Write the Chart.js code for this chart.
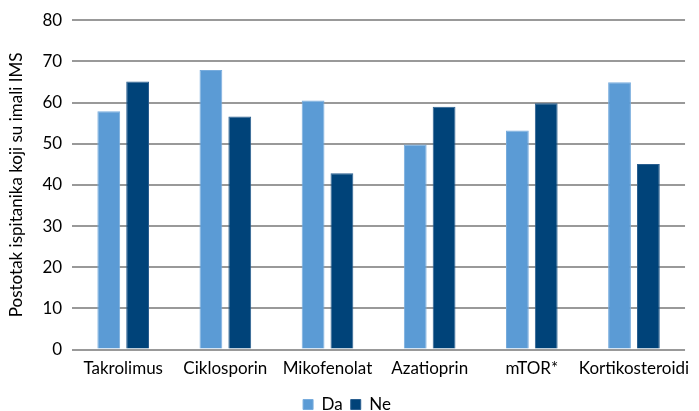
<!DOCTYPE html>
<html>
<head>
<meta charset="utf-8">
<script src="https://cdn.jsdelivr.net/npm/chart.js@4/dist/chart.umd.min.js"></script>
<style>
  html, body { margin: 0; padding: 0; background: #fff; }
  #wrap { width: 699px; height: 411px; }
</style>
</head>
<body>
<div id="wrap"><canvas id="c" width="699" height="411"></canvas></div>
<script>
// Categories and series values
const categories = ["Takrolimus", "Ciklosporin", "Mikofenolat", "Azatioprin", "mTOR*", "Kortikosteroidi"];
const seriesDa = [57.9, 67.9, 60.5, 49.8, 53.2, 64.9];
const seriesNe = [65.1, 56.6, 42.8, 59.0, 59.8, 45.1];
const yTicks = [0, 10, 20, 30, 40, 50, 60, 70, 80];
const yTitle = "Postotak ispitanika koji su imali IMS";

const FONT = "Lato, 'Open Sans', sans-serif";

new Chart(document.getElementById("c"), {
  type: "bar",
  data: {
    labels: categories,
    datasets: [
      { label: "Da", data: seriesDa, backgroundColor: "#5b9bd5", borderColor: "#78acdd", borderWidth: 1,
        categoryPercentage: 0.565, barPercentage: 0.79 },
      { label: "Ne", data: seriesNe, backgroundColor: "#004379", borderColor: "#2a5f90", borderWidth: 1,
        categoryPercentage: 0.565, barPercentage: 0.79 }
    ]
  },
  options: {
    responsive: false,
    animation: false,
    devicePixelRatio: 1,
    layout: { padding: { left: 6, right: 11, top: 18, bottom: -12 } },
    plugins: {
      legend: {
        position: "bottom",
        labels: { boxWidth: 10, boxHeight: 10, color: "#000", font: { family: FONT, size: 17 }, padding: 8 }
      },
      tooltip: { enabled: false }
    },
    scales: {
      x: {
        grid: { display: false, drawTicks: false },
        border: { display: false },
        ticks: { color: "#000", font: { family: FONT, size: 17 }, padding: 9, maxRotation: 0, autoSkip: false }
      },
      y: {
        min: 0, max: 80,
        afterBuildTicks: (axis) => { axis.ticks = yTicks.map(v => ({ value: v })); },
        grid: { color: "#999999", lineWidth: 2, drawTicks: false },
        border: { display: false },
        ticks: { color: "#000", font: { family: FONT, size: 17 }, padding: 10 },
        title: { display: true, text: yTitle, color: "#000", font: { family: FONT, size: 17 }, padding: { top: 0, bottom: 6 } }
      }
    }
  }
});
</script>
</body>
</html>
